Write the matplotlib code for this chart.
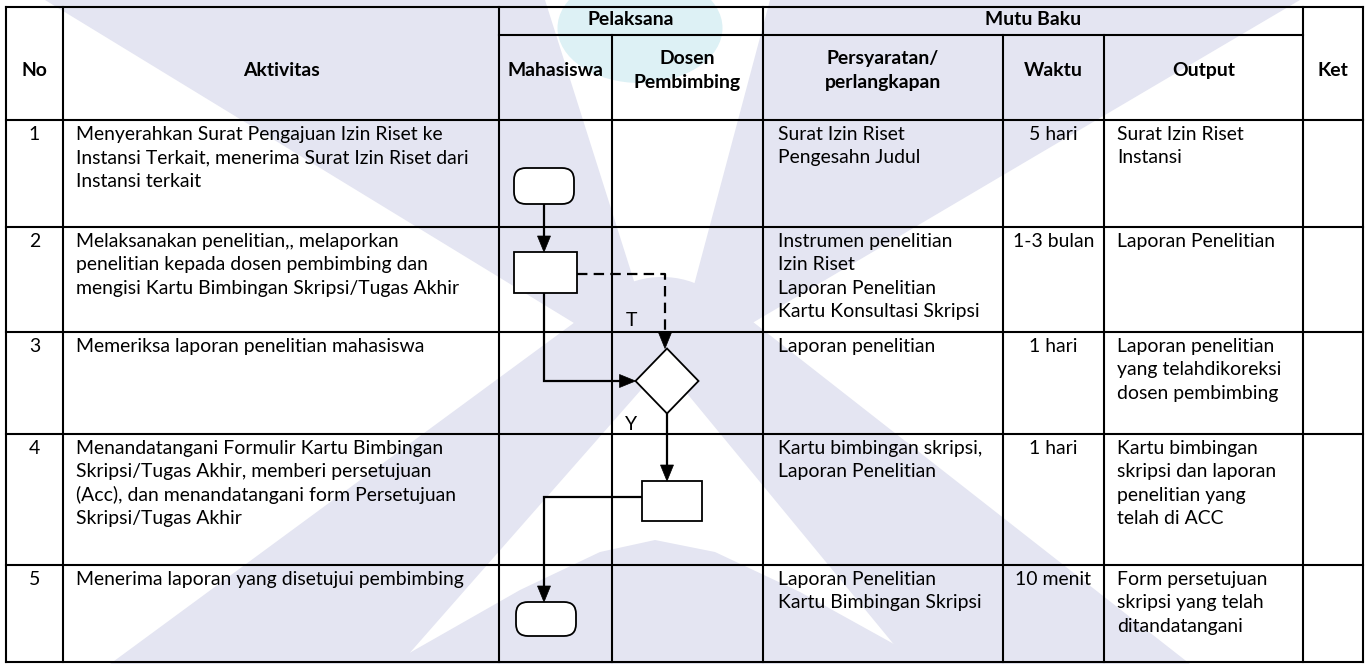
import matplotlib
matplotlib.use("Agg")
import matplotlib.pyplot as plt
from matplotlib.patches import Polygon, FancyBboxPatch, Rectangle, Ellipse

# ---------------- data ----------------
headers_top = ["No", "Aktivitas", "Pelaksana", "Mutu Baku", "Ket"]
lanes = ["Mahasiswa", "Dosen\nPembimbing"]
mutu_cols = ["Persyaratan/\nperlangkapan", "Waktu", "Output"]

step_no = ["1", "2", "3", "4", "5"]
aktivitas = [
    "Menyerahkan Surat Pengajuan Izin Riset ke\nInstansi Terkait, menerima Surat Izin Riset dari\nInstansi terkait",
    "Melaksanakan penelitian,, melaporkan\npenelitian kepada dosen pembimbing dan\nmengisi Kartu Bimbingan Skripsi/Tugas Akhir",
    "Memeriksa laporan penelitian mahasiswa",
    "Menandatangani Formulir Kartu Bimbingan\nSkripsi/Tugas Akhir, memberi persetujuan\n(Acc), dan menandatangani form Persetujuan\nSkripsi/Tugas Akhir",
    "Menerima laporan yang disetujui pembimbing",
]
persyaratan = [
    "Surat Izin Riset\nPengesahn Judul",
    "Instrumen penelitian\nIzin Riset\nLaporan Penelitian\nKartu Konsultasi Skripsi",
    "Laporan penelitian",
    "Kartu bimbingan skripsi,\nLaporan Penelitian",
    "Laporan Penelitian\nKartu Bimbingan Skripsi",
]
waktu = ["5 hari", "1-3 bulan", "1 hari", "1 hari", "10 menit"]
output = [
    "Surat Izin Riset\nInstansi",
    "Laporan Penelitian",
    "Laporan penelitian\nyang telahdikoreksi\ndosen pembimbing",
    "Kartu bimbingan\nskripsi dan laporan\npenelitian yang\ntelah di ACC",
    "Form persetujuan\nskripsi yang telah\nditandatangani",
]
ket = ["", "", "", "", ""]
decision_labels = ["T", "Y"]

# ---------------- layout ----------------
W, H = 1370, 664
FONT = ["Lato", "DejaVu Sans"]
plt.rcParams["lines.scale_dashes"] = False

fig = plt.figure(figsize=(W / 100, H / 100), dpi=100)
ax = fig.add_axes([0, 0, 1, 1])
ax.set_xlim(0, W)
ax.set_ylim(H, 0)
ax.axis("off")

col_x = [6, 63, 499, 612, 763, 1003, 1104, 1303, 1363]
row_y = [7, 120, 227, 332, 434, 565, 662]
sub_y = 35
LS = 23.3

# ---------------- faint background watermark ----------------
WM = "#E4E5F2"
WM_HEAD = "#DDF1F5"

def poly(pts, fc=WM, z=0):
    ax.add_patch(Polygon(pts, closed=True, fc=fc, ec="none", zorder=z))

poly([(45, 0), (545, 0), (640, 300), (610, 345)])           # left arm
poly([(770, 0), (1300, 0), (715, 345), (690, 300)])         # right arm
poly([(605, 300), (720, 300), (400, 664), (110, 664)])      # left leg
poly([(610, 300), (725, 300), (1190, 664), (910, 664)])     # right leg
poly([(390, 664), (520, 590), (600, 552), (655, 540), (715, 552),
      (800, 592), (930, 664)])                              # low hill between legs
ax.add_patch(Ellipse((662, 322), 130, 90, fc=WM, ec="none", zorder=0))
ax.add_patch(Ellipse((640, 28), 165, 110, fc=WM_HEAD, ec="none", zorder=0.5))

# fit font size to reference text width
renderer = fig.canvas.get_renderer()
probe = ax.text(0, 0, "Instansi Terkait, menerima Surat Izin Riset dari", fontsize=12, family=FONT)
bb = probe.get_window_extent(renderer)
FS = 12 * 392.0 / bb.width
probe.remove()

LWT = 1.5   # table line width (pt)

def hline(y, x0, x1):
    ax.plot([x0, x1], [y, y], color="black", lw=LWT, solid_capstyle="projecting", zorder=3)

def vline(x, y0, y1):
    ax.plot([x, x], [y0, y1], color="black", lw=LWT, solid_capstyle="projecting", zorder=3)

# grid
top, bot = row_y[0], row_y[-1]
for y in row_y:
    hline(y, col_x[0], col_x[-1])
hline(sub_y, col_x[2], col_x[7])
for i, x in enumerate(col_x):
    if i in (3, 5, 6):
        vline(x, sub_y, bot)
    else:
        vline(x, top, bot)

def put_lines(x, y_first_center, text, ha="left", bold=False):
    for i, line in enumerate(text.split("\n")):
        ax.text(x, y_first_center + i * LS, line, ha=ha, va="center_baseline",
                fontsize=FS, family=FONT, fontweight="bold" if bold else "normal",
                color="black", zorder=5)

def put_block_centered(xc, yc, text, bold=True):
    lines = text.split("\n")
    n = len(lines)
    y0 = yc - (n - 1) * LS / 2
    put_lines(xc, y0, text, ha="center", bold=bold)

# headers
hc = 69
put_block_centered((col_x[0] + col_x[1]) / 2, hc, headers_top[0])
put_block_centered((col_x[1] + col_x[2]) / 2, hc, headers_top[1])
put_block_centered((col_x[2] + col_x[4]) / 2, 18, headers_top[2])
put_block_centered((col_x[4] + col_x[7]) / 2, 18, headers_top[3])
put_block_centered((col_x[7] + col_x[8]) / 2, hc, headers_top[4])
put_block_centered((col_x[2] + col_x[3]) / 2, hc, lanes[0])
put_block_centered((col_x[3] + col_x[4]) / 2, hc, lanes[1])
for j, t in enumerate(mutu_cols):
    put_block_centered((col_x[4 + j] + col_x[5 + j]) / 2, hc, t)

# body
PAD = 13
for r in range(5):
    y1 = row_y[r + 1] + 13
    put_lines((col_x[0] + col_x[1]) / 2, y1, step_no[r], ha="center")
    put_lines(col_x[1] + PAD, y1, aktivitas[r])
    put_lines(col_x[4] + PAD + 2, y1, persyaratan[r])
    put_lines((col_x[5] + col_x[6]) / 2, y1, waktu[r], ha="center")
    put_lines(col_x[6] + PAD, y1, output[r])
    if ket[r]:
        put_lines(col_x[7] + PAD, y1, ket[r])

# ---------------- flowchart ----------------
LWF = 1.3
HEAD_L, HEAD_W = 16, 13

xm = col_x[2] + 45      # Mahasiswa lane axis
xd = col_x[3] + 55      # Dosen lane axis

def terminator(xc, yc, w=60, h=35):
    p = FancyBboxPatch((xc - w / 2, yc - h / 2), w, h,
                       boxstyle="round,pad=0,rounding_size=12",
                       fc="white", ec="black", lw=LWF, zorder=6)
    ax.add_patch(p)

def process(x0, y0, x1, y1):
    ax.add_patch(Rectangle((x0, y0), x1 - x0, y1 - y0, fc="white", ec="black", lw=LWF, zorder=6))

def decision(xc, yc, hw, hh):
    ax.add_patch(Polygon([(xc, yc - hh), (xc + hw, yc), (xc, yc + hh), (xc - hw, yc)],
                         closed=True, fc="white", ec="black", lw=LWF, zorder=6))

def connector(points, dashed=False):
    (xa, ya), (xb, yb) = points[-2], points[-1]
    dx, dy = xb - xa, yb - ya
    L = (dx * dx + dy * dy) ** 0.5
    ux, uy = dx / L, dy / L
    bx, by = xb - ux * HEAD_L, yb - uy * HEAD_L
    xs = [p[0] for p in points[:-1]] + [bx]
    ys = [p[1] for p in points[:-1]] + [by]
    if dashed:
        ax.plot(xs, ys, color="black", lw=1.6, ls=(0, (7.5, 4.5)), zorder=5)
    else:
        ax.plot(xs, ys, color="black", lw=1.6, solid_joinstyle="miter", zorder=5)
    px, py = -uy, ux
    ax.add_patch(Polygon([(xb, yb), (bx + px * HEAD_W / 2, by + py * HEAD_W / 2),
                          (bx - px * HEAD_W / 2, by - py * HEAD_W / 2)],
                         closed=True, fc="black", ec="black", lw=0.5, zorder=7))

# shapes
t1 = (xm, 186)
r2 = (514, 252, 577, 293)
d3 = (xd, 381, 31.5, 32.5)
r4 = (642, 481, 702, 521)
t5 = (xm + 2, 619)

terminator(*t1, w=60, h=36)
process(*r2)
decision(*d3)
process(*r4)
terminator(*t5, w=60, h=34)

connector([(xm, t1[1] + 18), (xm, r2[1])])
connector([(xm, r2[3]), (xm, d3[1]), (d3[0] - d3[2], d3[1])])
connector([(r2[2], 274), (xd - 2, 274), (xd - 2, d3[1] - d3[3])], dashed=True)
connector([(xd, d3[1] + d3[3]), (xd, r4[1])])
connector([(r4[0], 497), (xm, 497), (xm, t5[1] - 17)])

ax.text(631, 319, decision_labels[0], ha="center", va="center_baseline", fontsize=FS, family=FONT, zorder=5)
ax.text(631, 423, decision_labels[1], ha="center", va="center_baseline", fontsize=FS, family=FONT, zorder=5)

fig.savefig("out.png", dpi=100, facecolor="white")
